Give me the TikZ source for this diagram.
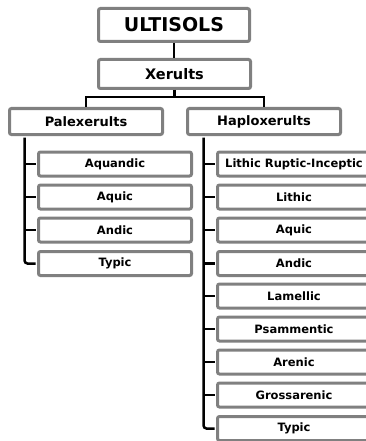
\documentclass[tikz,border=0pt]{standalone}
\usepackage{fontspec}
\setmainfont{DejaVu Sans}
\definecolor{boxgray}{HTML}{808080}
\tikzset{
  taxbox/.style={draw=boxgray, line width=3pt, fill=white, rounded corners=2pt,
    inner sep=0pt, font=\bfseries\fontsize{11.5}{13}\selectfont, text=black},
  topbox/.style={taxbox, minimum width=151pt, minimum height=33pt, font=\bfseries\fontsize{19}{22}\selectfont},
  midbox/.style={taxbox, minimum width=152pt, minimum height=29pt, font=\bfseries\fontsize{14.5}{17}\selectfont},
  grpbox/.style={taxbox, minimum width=153pt, minimum height=26pt, font=\bfseries\fontsize{13}{15}\selectfont},
  leafbox/.style={taxbox, minimum width=153pt, minimum height=24pt},
  conn/.style={draw=black, line width=2.5pt},
}
\begin{document}
\begin{tikzpicture}[x=1pt,y=-1pt]
\useasboundingbox (0,0) rectangle (365,441);
\node[topbox] (ult) at (174,25) {ULTISOLS};
\node[midbox] (xer) at (174.5,74) {Xerults};
\node[grpbox] (pal) at (86,121.5) {Palexerults};
\node[grpbox] (hap) at (264,121.5) {Haploxerults};
\coordinate (bar) at (174.5,97);
% Palexerults children
\node[leafbox] (p1) at (115,164) {Aquandic};
\node[leafbox] (p2) at (115,197) {Aquic};
\node[leafbox] (p3) at (115,230) {Andic};
\node[leafbox] (p4) at (115,263.5) {Typic};
% Haploxerults children
\node[leafbox] (h1) at (294,164) {Lithic Ruptic-Inceptic};
\node[leafbox] (h2) at (294,197) {Lithic};
\node[leafbox] (h3) at (294,230) {Aquic};
\node[leafbox] (h4) at (294,263.5) {Andic};
\node[leafbox] (h5) at (294,296) {Lamellic};
\node[leafbox] (h6) at (294,329) {Psammentic};
\node[leafbox] (h7) at (294,362) {Arenic};
\node[leafbox] (h8) at (294,395) {Grossarenic};
\node[leafbox] (h9) at (294,428.5) {Typic};
% connectors
\draw[conn] (ult.south) -- (ult.south |- xer.north);
\draw[conn] (xer.south) -- (bar);
\draw[conn] (pal.north) |- (bar) -| (hap.north);
\coordinate (pl) at ([xshift=16.5pt,yshift=-1.5pt]pal.south west);
\coordinate (hl) at ([xshift=17.5pt,yshift=-1.5pt]hap.south west);
\draw[conn, rounded corners=3pt] (pl) |- ([xshift=-1.5pt]p4.west);
\foreach \c in {p1,p2,p3}{\draw[conn] (pl |- \c.west) -- ([xshift=-1.5pt]\c.west);}
\draw[conn, rounded corners=3pt] (hl) |- ([xshift=-1.5pt]h9.west);
\foreach \c in {h1,h2,h3,h4,h5,h6,h7,h8}{\draw[conn] (hl |- \c.west) -- ([xshift=-1.5pt]\c.west);}
\end{tikzpicture}
\end{document}
